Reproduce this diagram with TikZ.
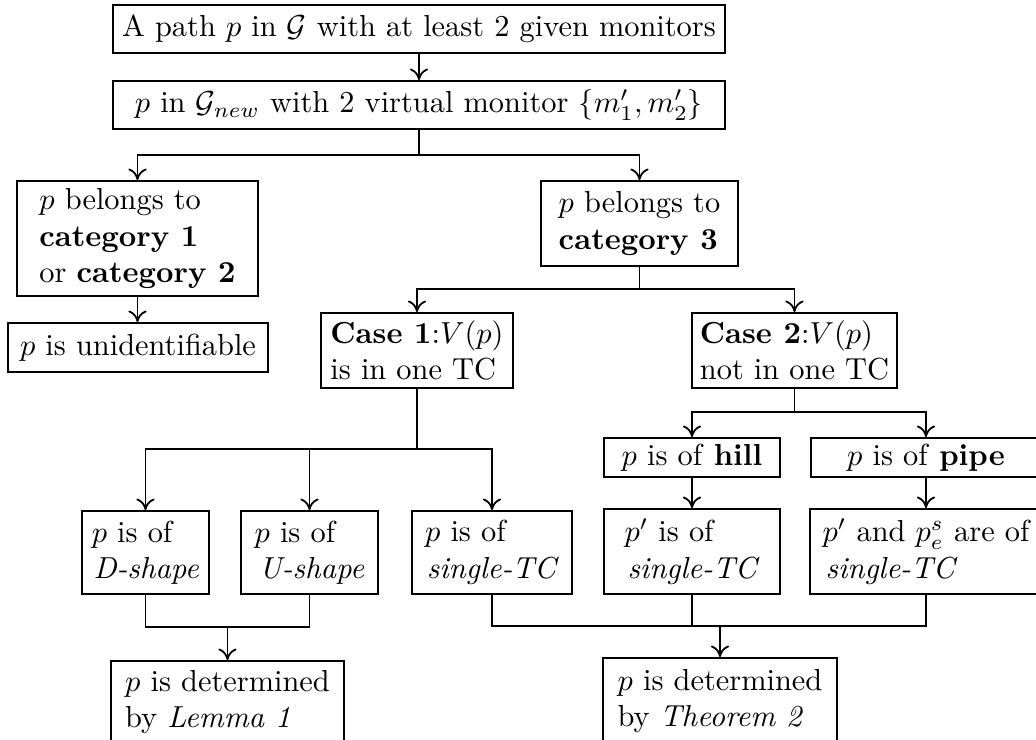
\documentclass[tikz,border=0pt]{standalone}
\usetikzlibrary{arrows.meta}
\begin{document}
\begin{tikzpicture}[x=0.329pt,y=-0.329pt,
  box/.style={draw, line width=0.6pt, align=left, inner sep=0pt},
  sz/.style 2 args={minimum width=#1*0.329pt, minimum height=#2*0.329pt},
  link/.style={line width=0.6pt},
  arr/.style={line width=0.6pt, -{To[length=3.8pt,width=6pt]}}]
\useasboundingbox (0,0) rectangle (1036,740);
\clip (0,0) rectangle (1036,740);
% row 1-2
\node[box, sz={612}{48}] (top) at (419,29) {A path $p$ in $\mathcal{G}$ with at least 2 given monitors};
\node[box, sz={612}{48}] (new) at (419,105) {$p$ in $\mathcal{G}_{new}$ with 2 virtual monitor $\{m'_1,m'_2\}$};
% categories
\node[box, sz={241}{115}] (cat12) at (137.5,238.5) {$p$ belongs to\\\textbf{category 1}\\or \textbf{category 2}};
\node[box, sz={197}{85}] (cat3) at (639.5,223.5) {$p$ belongs to\\\textbf{category 3}};
\node[box, sz={260}{49}] (unid) at (138,347.5) {$p$ is unidentifiable};
% cases
\node[box, sz={192}{75}] (case1) at (417,350.5) {\textbf{Case 1}:$V(p)$\\is in one TC};
\node[box, sz={205}{75}] (case2) at (794.5,350.5) {\textbf{Case 2}:$V(p)$\\not in one TC};
% shapes
\node[box, sz={127}{83}] (dshape) at (145.5,552.5) {$p$ is of\\\hspace{0.6pt}\textit{D-shape}};
\node[box, sz={137}{83}] (ushape) at (309.5,552.5) {$p$ is of\\\hspace{1.5pt}\textit{U-shape}};
\node[box, sz={160}{83}] (stc) at (492,552.5) {$p$ is of\\\hspace{0.6pt}\textit{single-TC}};
\node[box, sz={176}{39}] (hill) at (692,457.5) {$p$ is of \textbf{hill}};
\node[box, sz={230}{39}] (pipe) at (926,457.5) {$p$ is of \textbf{pipe}};
\node[box, sz={176}{85}] (hillp) at (692,551.5) {$p'$ is of\\\hspace{1pt}\textit{single-TC}};
\node[box, sz={232}{85}] (pipep) at (926,551.5) {$p'$ and $p^s_e$ are of\\\hspace{1pt}\textit{single-TC}};
% results
\node[box, sz={233}{82}] (lemma) at (227.5,702) {$p$ is determined\\by \textit{Lemma 1}};
\node[box, sz={234}{86}] (theorem) at (720,701) {$p$ is determined\\by \textit{Theorem 2}};
% junctions
\coordinate (j1) at (419,155);
\coordinate (j2) at (639.5,289);
\coordinate (j3) at (417,449);
\coordinate (j4) at (794.5,412);
\coordinate (m1) at (227.5,627);
\coordinate (m2) at (720,626);
% connectors
\draw[arr] (top.south) -- (new.north);
\draw[link] (new.south) -- (j1);
\draw[arr] (j1) -| (cat12.north);
\draw[arr] (j1) -| (cat3.north);
\draw[arr] (cat12.south) -- (cat12.south |- unid.north);
\draw[link] (cat3.south) -- (j2);
\draw[arr] (j2) -| (case1.north);
\draw[arr] (j2) -| (case2.north);
\draw[link] (case1.south) -- (j3);
\draw[arr] (j3) -| (dshape.north);
\draw[arr] (j3) -| (ushape.north);
\draw[arr] (j3) -| (stc.north);
\draw[link] (case2.south) -- (j4);
\draw[arr] (j4) -| (hill.north);
\draw[arr] (j4) -| (pipe.north);
\draw[arr] (hill.south) -- (hillp.north);
\draw[arr] (pipe.south) -- (pipep.north);
\draw[link] (dshape.south) |- (m1);
\draw[link] (ushape.south) |- (m1);
\draw[arr] (m1) -- (lemma.north);
\draw[link] (stc.south) |- (m2);
\draw[link] (hillp.south) |- (m2);
\draw[link] (pipep.south) |- (m2);
\draw[arr] (m2) -- (theorem.north);
\end{tikzpicture}
\end{document}
